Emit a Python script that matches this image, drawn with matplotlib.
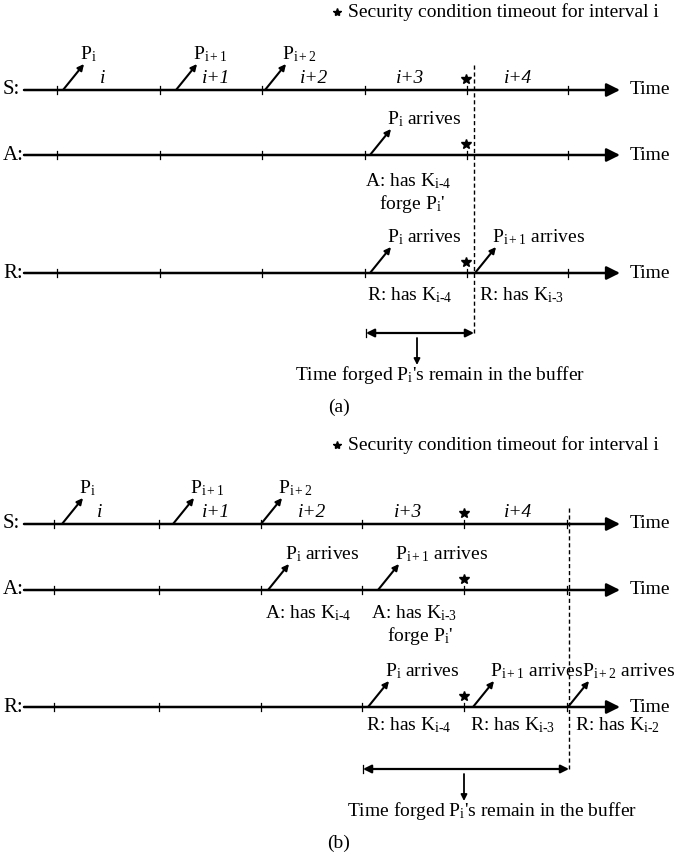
import matplotlib
matplotlib.use("Agg")
import matplotlib.pyplot as plt

plt.rcParams['font.family'] = ['Liberation Serif', 'DejaVu Serif']
plt.rcParams['mathtext.fontset'] = 'custom'
plt.rcParams['mathtext.rm'] = 'Liberation Serif'
plt.rcParams['mathtext.it'] = 'Liberation Serif:italic'

FS = 14

# panel (a) values, in pixel units of the picture
rows_a = {'S': 90, 'A': 155, 'R': 273}
ticks_a = [57, 160, 262, 365, 467, 568]
interval_x_a = [103, 216, 314, 410, 518]
interval_names = ['i', 'i+1', 'i+2', 'i+3', 'i+4']
packets_a = {
    'S': [(63, 'P$_\\mathrm{i}$'), (176, 'P$_\\mathrm{i+1}$'), (265, 'P$_\\mathrm{i+2}$')],
    'A': [(370, 'P$_\\mathrm{i}$ arrives')],
    'R': [(370, 'P$_\\mathrm{i}$ arrives'), (475, 'P$_\\mathrm{i+1}$ arrives')],
}
stars_a = {'S': 466, 'A': 466, 'R': 466}
notes_a = [(408, 181, 'A: has K$_{\\mathrm{i}\\text{-}4}$'),
           (412, 204, "forge P$_\\mathrm{i}$'"),
           (410, 295, 'R: has K$_{\\mathrm{i}\\text{-}4}$'),
           (521, 295, 'R: has K$_{\\mathrm{i}\\text{-}3}$')]
dash_a = (474, 65, 333)
buffer_a = (366, 474, 333)
down_a = 417

# panel (b)
rows_b = {'S': 524, 'A': 590, 'R': 707}
ticks_b = [54, 159, 261, 362, 464, 567]
interval_x_b = [100, 216, 312, 408, 518]
packets_b = {
    'S': [(62, 'P$_\\mathrm{i}$'), (173, 'P$_\\mathrm{i+1}$'), (261, 'P$_\\mathrm{i+2}$')],
    'A': [(268, 'P$_\\mathrm{i}$ arrives'), (378, 'P$_\\mathrm{i+1}$ arrives')],
    'R': [(368, 'P$_\\mathrm{i}$ arrives'), (473, 'P$_\\mathrm{i+1}$ arrives'),
          (568, 'P$_\\mathrm{i+2}$ arrives')],
}
stars_b = {'S': 464, 'A': 464, 'R': 464}
notes_b = [(308, 613, 'A: has K$_{\\mathrm{i}\\text{-}4}$'),
           (414, 613, 'A: has K$_{\\mathrm{i}\\text{-}3}$'),
           (420, 636, "forge P$_\\mathrm{i}$'"),
           (409, 725, 'R: has K$_{\\mathrm{i}\\text{-}4}$'),
           (512, 725, 'R: has K$_{\\mathrm{i}\\text{-}3}$'),
           (617, 725, 'R: has K$_{\\mathrm{i}\\text{-}2}$')]
dash_b = (569, 508, 769)
buffer_b = (363, 569, 769)
down_b = 464

fig = plt.figure(figsize=(6.76, 8.6), dpi=100)
ax = fig.add_axes([0, 0, 1, 1])
ax.set_xlim(0, 676)
ax.set_ylim(860, 0)
ax.axis('off')
renderer = fig.canvas.get_renderer()


def arrow(x0, y0, x1, y1, style='-|>', ms=10, lw=1.5):
    ax.annotate('', xy=(x1, y1), xytext=(x0, y0),
                arrowprops=dict(arrowstyle=style, mutation_scale=ms, lw=lw,
                                color='black', shrinkA=0, shrinkB=0))


def panel(rows, ticks, interval_x, packets, stars, notes, dash, buffer, down,
          legend_y, caption_y, buffer_text_x, tag):
    # legend
    ax.plot(337, legend_y, marker='*', color='black', markersize=6)
    ax.text(348, legend_y, 'Security condition timeout for interval i',
            fontsize=FS, ha='left', va='center')
    x_start = 24
    for name, y in rows.items():
        ax.text(3, y, name + ':', fontsize=FS + 1, ha='left', va='center')
        arrow(x_start, y, 620, y, ms=20, lw=1.8)
        ax.text(630, y, 'Time', fontsize=FS, ha='left', va='center')
        for t in ticks:
            ax.plot([t, t], [y - 4, y + 4], color='black', lw=0.9)
        ax.plot(stars[name], y - 11, marker='*', color='black', markersize=7)
        for px, lab in packets[name]:
            arrow(px, y, px + 21, y - 26, ms=9, lw=1.5)
            t = ax.text(px + 17, y - 26, lab, fontsize=FS, ha='left', va='bottom')
            # keep the label inside the picture
            right = t.get_window_extent(renderer).x1
            if right > 675:
                t.set_x(px + 17 - (right - 675))
    sy = rows['S']
    for x, lab in zip(interval_x, interval_names):
        ax.text(x, sy - 3, lab, fontsize=FS, style='italic', ha='center', va='bottom')
    for x, y, lab in notes:
        ax.text(x, y, lab, fontsize=FS, ha='center', va='center')
    ax.plot([dash[0], dash[0]], [dash[1], dash[2]], color='black', lw=1.0,
            linestyle=(0, (3, 2)))
    arrow(buffer[0], buffer[2], buffer[1], buffer[2], style='<|-|>', ms=12, lw=1.6)
    ax.plot([buffer[0], buffer[0]], [buffer[2] - 4, buffer[2] + 4], color='black', lw=0.9)
    arrow(down, buffer[2] + 5, down, buffer[2] + 32, ms=9, lw=1.3)
    ax.text(buffer_text_x, caption_y - 32, "Time forged P$_\\mathrm{i}$'s remain in the buffer",
            fontsize=FS, ha='center', va='center')
    ax.text(339, caption_y, tag, fontsize=FS, ha='center', va='center')


panel(rows_a, ticks_a, interval_x_a, packets_a, stars_a, notes_a, dash_a, buffer_a,
      down_a, 12, 407, 440, '(a)')
panel(rows_b, ticks_b, interval_x_b, packets_b, stars_b, notes_b, dash_b, buffer_b,
      down_b, 445, 843, 492, '(b)')

fig.savefig('out.png', dpi=100)
